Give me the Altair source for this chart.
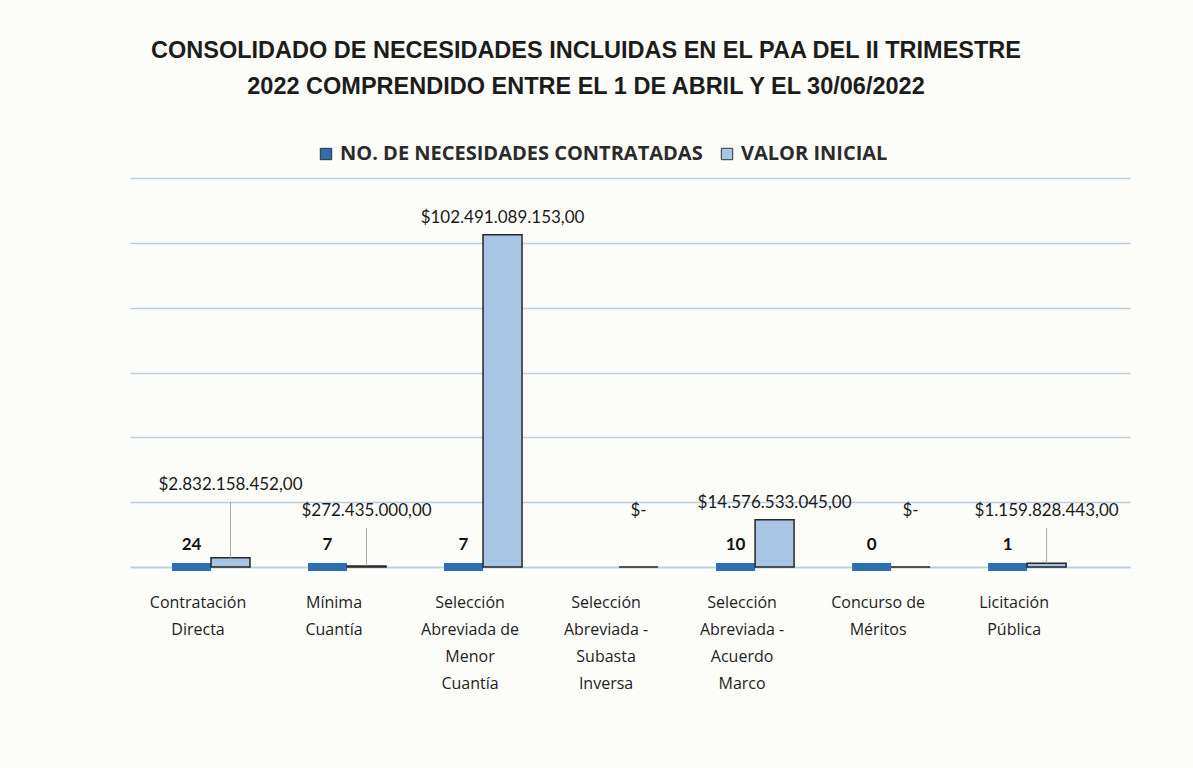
import altair as alt
import pandas as pd

categorias = [
    "Contratación\nDirecta",
    "Mínima\nCuantía",
    "Selección\nAbreviada de\nMenor\nCuantía",
    "Selección\nAbreviada -\nSubasta\nInversa",
    "Selección\nAbreviada -\nAcuerdo\nMarco",
    "Concurso de\nMéritos",
    "Licitación\nPública",
]
necesidades = [24, 7, 7, None, 10, 0, 1]
valor_inicial = [2832158452.00, 272435000.00, 102491089153.00, 0, 14576533045.00, 0, 1159828443.00]
grid_values = [0, 20e9, 40e9, 60e9, 80e9, 100e9, 120e9]

S1 = "NO. DE NECESIDADES CONTRATADAS"
S2 = "VALOR INICIAL"


def pesos(v):
    if v == 0:
        return "$-"
    s = f"{v:,.2f}"
    return "$" + s.replace(",", "X").replace(".", ",").replace("X", ".")


rows = []
for c, n, v in zip(categorias, necesidades, valor_inicial):
    if n is not None:
        rows.append({"cat": c, "serie": S1, "valor": n, "txt": str(n)})
    rows.append({"cat": c, "serie": S2, "valor": v, "txt": pesos(v)})
df = pd.DataFrame(rows)

BLUE = "#2f6fad"
LIGHT = "#a9c5e6"
GRID = "#b9cde3"

x = alt.X("cat:N", sort=categorias, title=None,
          scale=alt.Scale(paddingInner=0, paddingOuter=0.176, align=0),
          axis=alt.Axis(labelExpr="split(datum.label, '\\n')", labelAngle=0,
                        labelFont="Open Sans", labelFontSize=16, labelColor="#1e1e1e",
                        labelLineHeight=27, labelPadding=27, ticks=False,
                        domainColor=GRID, domainWidth=1.5, labelBaseline="top"))
xo = alt.XOffset("serie:N", sort=[S1, S2],
                 scale=alt.Scale(domain=[S1, S2], range=[42, 120], paddingInner=0, paddingOuter=0))
yaxis = alt.Axis(values=grid_values, labels=False, ticks=False, domain=False,
                 grid=True, gridColor=GRID, gridWidth=1.5, title=None)
yscale = alt.Scale(domain=[0, 120e9], nice=False)
y = alt.Y("valor:Q", title=None, scale=yscale, axis=yaxis)
color = alt.Color("serie:N", sort=[S1, S2],
                  scale=alt.Scale(domain=[S1, S2], range=[BLUE, LIGHT]),
                  legend=alt.Legend(title=None, orient="none", direction="horizontal",
                                    legendX=186, legendY=-34,
                                    labelFont="Open Sans", labelFontSize=20, labelFontWeight="bold",
                                    labelColor="#2b2b2b", symbolType="square", symbolSize=130,
                                    symbolStrokeColor="#333333", symbolStrokeWidth=1,
                                    columnPadding=14, labelLimit=450))

base = alt.Chart(df)

count_bars = base.transform_filter(alt.datum.serie == S1).mark_bar(
    stroke=BLUE, strokeWidth=8).encode(x=x, xOffset=xo, y=y, color=color)

value_bars = base.transform_filter(alt.datum.serie == S2).mark_bar(
    stroke="#262626", strokeWidth=1.5).encode(x=x, xOffset=xo, y=y, color=color)

count_text = base.transform_filter(alt.datum.serie == S1).mark_text(
    font="Lato", fontSize=17, fontWeight="bold", color="#111111", dy=-22, baseline="middle"
).encode(x=x, xOffset=xo, y=y, text="txt:N")

values_lab = base.transform_filter(alt.datum.serie == S2).transform_calculate(
    ly="(datum.valor > 2e9 && datum.valor < 12e9) ? 20e9 : max(datum.valor, 12e9)"
)

leaders = values_lab.transform_filter(
    (alt.datum.valor > 0) & (alt.datum.valor < 12e9)
).mark_rule(color="#a6a6a6", strokeWidth=1).encode(
    x=x, xOffset=xo, y=y, y2=alt.Y2("ly:Q"))

value_text = values_lab.mark_text(
    font="Lato", fontSize=17, color="#1a1a1a", dy=-8, baseline="bottom"
).encode(x=x, xOffset=xo, y=alt.Y("ly:Q", title=None, scale=yscale, axis=yaxis),
         text="txt:N")

chart = alt.layer(count_bars, value_bars, leaders, count_text, value_text).properties(
    width=1000, height=389,
    autosize="none",
    padding={"left": 130, "top": 178, "right": 63, "bottom": 201},
    background="#fcfcf9",
    title=alt.TitleParams(
        ["CONSOLIDADO DE NECESIDADES INCLUIDAS EN EL PAA DEL II TRIMESTRE",
         "2022 COMPRENDIDO ENTRE EL 1 DE ABRIL Y EL 30/06/2022"],
        font="Liberation Sans", fontSize=23.5, fontWeight="bold", color="#1c1c1c",
        anchor="middle", frame="group", dx=-44, offset=46, lineHeight=36),
).configure_view(stroke=None)

chart.save("out.html", embed_options={"renderer": "svg", "actions": False})
